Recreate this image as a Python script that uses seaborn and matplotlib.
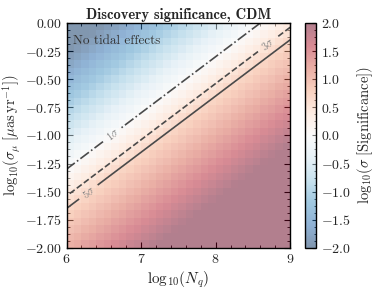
import numpy as np
import pandas as pd
import matplotlib
matplotlib.use("Agg")
import matplotlib.pyplot as plt
import seaborn as sns
from matplotlib.ticker import MultipleLocator, FuncFormatter

# axis ranges and grid size (30 x 30 cells)
nq_lo, nq_hi = 6.0, 9.0
mu_lo, mu_hi = -2.0, 0.0
n_cells = 30

# iso-significance lines are parallel, slope 0.5 in (Nq, sigma_mu):
# t = (Nq - 6) - 2*(mu - mu_1sig), t = 0 on the 1 sigma line
mu_1sig = -1.30
# colour value (log10 sigma) read along t: contours at 0 / 0.48 / 0.70,
# full blue at the top-left corner, saturating red from Nq ~ 7.2 on the bottom row
t_read = [-3.0, 0.0, 0.7, 2.5, 5.0]
v_read = [-2.9, 0.0, 0.7, 1.96, 3.7]

sig_levels = [1, 3, 5]
sig_labels = [r'$1\sigma$', r'$3\sigma$', r'$5\sigma$']
sig_styles = ['-.', '--', '-']
label_pos = [(6.62, -1.00), (8.70, -0.20), (6.30, -1.51)]


def log_sig(nq, mu):
    t = (nq - nq_lo) - 2.0 * (mu - mu_1sig)
    return np.interp(t, t_read, v_read)


# heatmap cell coordinates
def to_x(nq):
    return (nq - nq_lo) / (nq_hi - nq_lo) * n_cells

def to_y(mu):
    return (mu_hi - mu) / (mu_hi - mu_lo) * n_cells


sns.set_theme(style='ticks')
plt.rcParams['font.family'] = 'serif'
plt.rcParams['font.serif'] = ['cmr10', 'DejaVu Serif']
plt.rcParams['mathtext.fontset'] = 'cm'
plt.rcParams['axes.unicode_minus'] = False
plt.rcParams['axes.formatter.use_mathtext'] = True

d_nq = (nq_hi - nq_lo) / n_cells
d_mu = (mu_hi - mu_lo) / n_cells
nq_c = nq_lo + (np.arange(n_cells) + 0.5) * d_nq
mu_c = mu_hi - (np.arange(n_cells) + 0.5) * d_mu
NQ, MU = np.meshgrid(nq_c, mu_c)
df = pd.DataFrame(log_sig(NQ, MU), index=np.round(mu_c, 3), columns=np.round(nq_c, 3))

fig = plt.figure(figsize=(3.74, 2.94), dpi=100)
ax = fig.add_axes([0.178, 0.157, 0.598, 0.765])
cax = fig.add_axes([0.816, 0.157, 0.030, 0.765])

cmap = sns.color_palette('RdBu_r', as_cmap=True)
sns.heatmap(df, ax=ax, cbar_ax=cax, cmap=cmap, vmin=-2, vmax=2, alpha=0.5,
            xticklabels=False, yticklabels=False)

# contours
nq_f = np.linspace(nq_lo, nq_hi, 300)
mu_f = np.linspace(mu_lo, mu_hi, 300)
NQf, MUf = np.meshgrid(nq_f, mu_f)
cs = ax.contour(to_x(NQf), to_y(MUf), log_sig(NQf, MUf),
                levels=np.log10(sig_levels), colors='#4a4a4a',
                linestyles=sig_styles, linewidths=1.2)
fmt = dict(zip(cs.levels, sig_labels))
ax.clabel(cs, fmt=fmt, fontsize=7.5, colors='#808080', inline=True,
          manual=[(to_x(a), to_y(b)) for a, b in label_pos])

ax.text(to_x(6.09), to_y(-0.16), 'No tidal effects', fontsize=9.5,
        color='#333333', va='center', ha='left')

# axes styling
for s in ax.spines.values():
    s.set_visible(True)
    s.set_color('black')
    s.set_linewidth(1.0)
ax.xaxis.set_major_locator(MultipleLocator(10))
ax.xaxis.set_minor_locator(MultipleLocator(2))
ax.yaxis.set_major_locator(MultipleLocator(3.75))
ax.yaxis.set_minor_locator(MultipleLocator(0.9375))
ax.xaxis.set_major_formatter(FuncFormatter(lambda v, p: r'$%d$' % round(nq_lo + v / n_cells * 3)))
ax.yaxis.set_major_formatter(FuncFormatter(lambda v, p: r'$%.2f$' % (mu_hi - v / n_cells * 2 + 0.0)))
ax.tick_params(which='both', direction='in', top=True, right=True,
               bottom=True, left=True, labelsize=10, color='black')
ax.tick_params(which='major', length=4, width=0.8)
ax.tick_params(which='minor', length=2, width=0.6)
plt.setp(ax.get_xticklabels(), rotation=0)
plt.setp(ax.get_yticklabels(), rotation=0)

ax.set_xlabel(r'$\mathrm{log}_{10}(N_q)$', fontsize=11, labelpad=3)
ax.set_ylabel(r'$\mathrm{log}_{10}(\sigma_\mu\ [\mu{\rm as\,yr}^{-1}])$', fontsize=10.5, labelpad=1)
ax.set_title('Discovery significance, CDM', fontfamily='cmb10', fontsize=10.5, pad=3)

cbar = ax.collections[0].colorbar
cbar.outline.set_linewidth(1.0)
cbar.outline.set_edgecolor('black')
cbar.set_ticks(np.arange(-2, 2.01, 0.5))
cbar.ax.yaxis.set_minor_locator(MultipleLocator(0.125))
cbar.ax.yaxis.set_major_formatter(FuncFormatter(lambda v, p: r'$%.1f$' % (v + 0.0)))
cbar.ax.tick_params(which='both', direction='in', labelsize=10, color='black')
cbar.ax.tick_params(which='major', length=3, width=0.8)
cbar.ax.tick_params(which='minor', length=1.5, width=0.6)
cbar.set_label(r'$\mathrm{log}_{10}(\sigma\ [{\rm Significance}])$', fontsize=10.5, labelpad=3)

fig.savefig('out.png', dpi=100)
